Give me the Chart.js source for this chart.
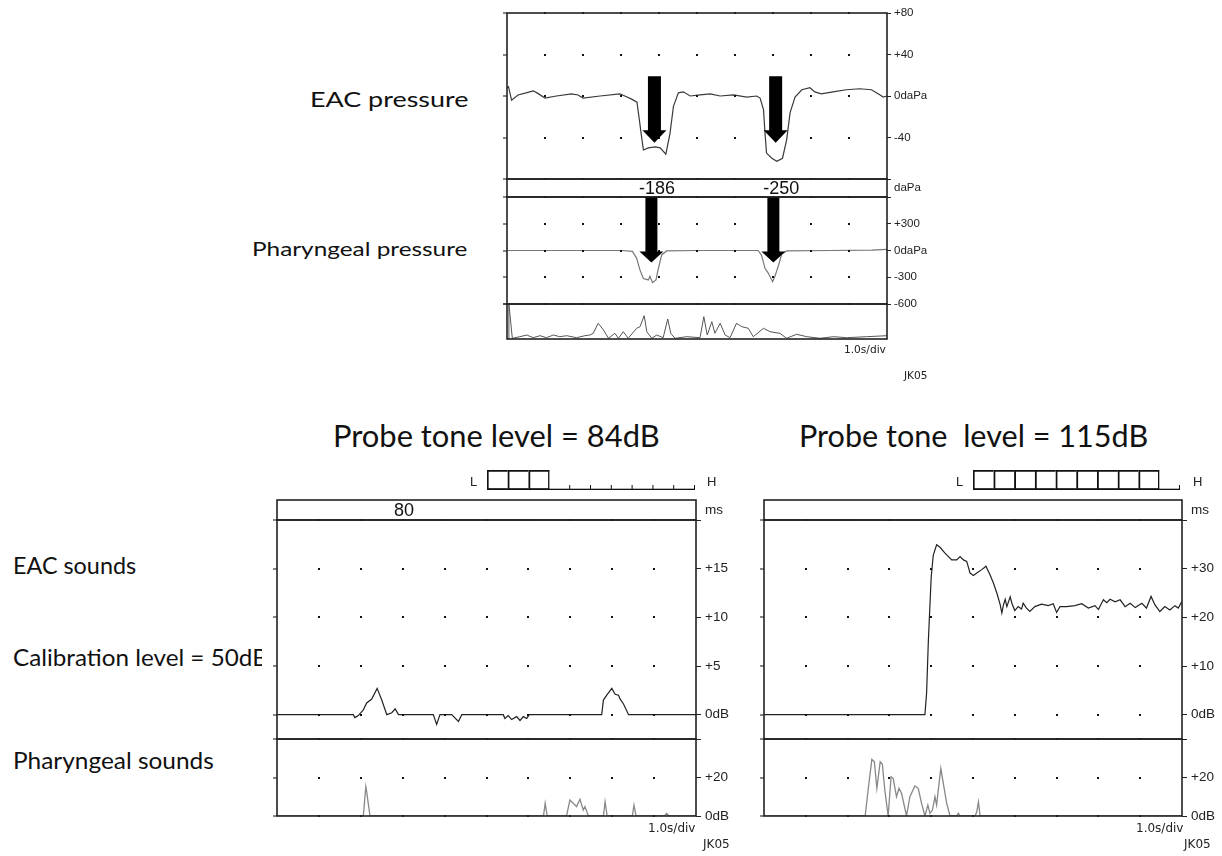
<!DOCTYPE html>
<html>
<head>
<meta charset="utf-8">
<title>EAC and pharyngeal recordings</title>
<script src="https://cdn.jsdelivr.net/npm/chart.js@4.4.1/dist/chart.umd.min.js"></script>
<style>
  body { margin: 0; width: 1222px; height: 856px; background: #fff; position: relative; overflow: hidden; }
  canvas { position: absolute; }
  .txt { position: absolute; white-space: pre; color: #111; transform-origin: 0 0; }
  .clip { position: absolute; overflow: hidden; }
</style>
</head>
<body>
<script>
// time axis: 10 divisions, 1.0 s/div
var divisions = [0, 1, 2, 3, 4, 5, 6, 7, 8, 9, 10];

// top recording: EAC pressure (daPa)
var eacPressT = [0, 0.04, 0.12, 0.29, 0.5, 0.69, 0.79, 1.0, 1.3, 1.7, 1.87, 2.0, 2.45, 2.97, 3.1, 3.28, 3.42, 3.48, 3.54, 3.59, 3.72, 3.9, 4.03, 4.18, 4.29, 4.38, 4.51, 4.64, 4.82, 5.08, 5.35, 5.61, 5.96, 6.31, 6.57, 6.66, 6.75, 6.79, 6.83, 6.97, 7.10, 7.25, 7.36, 7.45, 7.58, 7.76, 7.97, 8.1, 8.27, 8.58, 8.93, 9.28, 9.59, 9.82, 9.9, 10];
var eacPressV = [8, 9, -4, 1, 3, 5, 3, -2, 0, 2, 1, -2, 0, 2, 0, -3, -6, -22, -39, -52, -50, -49, -50, -56, -36, -10, 3, 4, 0, 1, 2, 0, 1, -1, 0, -2, -13, -36, -55, -60, -63, -60, -42, -16, -1, 6, 8, 4, 2, 4, 6, 7, 6, 1, -1, 0];
var eacPressTicks = [80, 40, 0, -40, -80];
var eacPressLabels = ['+80', '+40', '0daPa', '-40', ''];
var eacArrowT = [3.88, 7.07];

// peak pharyngeal values written in the band
var peakT = [3.95, 7.22];
var peakLabels = ['-186', '-250'];

// pharyngeal pressure (daPa)
var pharPressT = [0, 1, 2, 3.02, 3.3, 3.41, 3.5, 3.59, 3.72, 3.76, 3.83, 3.92, 3.98, 4.07, 4.2, 5, 6, 6.61, 6.7, 6.79, 6.87, 6.99, 7.05, 7.15, 7.23, 7.36, 8.5, 9.6, 10];
var pharPressV = [0, 0, 0, 0, -10, -85, -220, -315, -330, -290, -360, -330, -210, -50, -5, 0, 0, 0, -55, -200, -250, -350, -290, -160, -40, -5, 0, 5, 12];
var pharPressTicks = [600, 300, 0, -300, -600];
var pharPressLabels = ['', '+300', '0daPa', '-300', '-600'];
var pharArrowT = [3.80, 7.01];

// sound level trace under the pressure curves
var soundT = [0, 0.04, 0.05, 0.14, 0.34, 0.52, 0.69, 0.87, 1.04, 1.22, 1.39, 1.57, 1.83, 2.05, 2.18, 2.27, 2.40, 2.54, 2.67, 2.84, 2.93, 3.06, 3.19, 3.41, 3.50, 3.61, 3.68, 3.81, 3.94, 4.11, 4.23, 4.31, 4.42, 4.73, 5.08, 5.18, 5.27, 5.39, 5.47, 5.61, 5.74, 5.87, 6.04, 6.18, 6.35, 6.48, 6.75, 6.92, 7.18, 7.36, 7.62, 7.89, 8.24, 8.59, 8.94, 9.46, 10];
var soundV = [0.5, 0.5, 35, 0.7, 2.3, 4, 1.3, 3.3, 1.3, 4, 2.3, 3.3, 1.3, 3.3, 4, 5.7, 15.7, 9, 0.7, 5.7, 0.7, 7.3, 0.7, 10.7, 12.3, 23.3, 7.3, 0.7, 4, 1.3, 20, 5.7, 0.7, 2.3, 1.3, 22.3, 4, 17.3, 5.7, 15.7, 4, 1.3, 15.7, 12.3, 10.7, 2.3, 10.7, 7.3, 5.7, 0.7, 4.7, 2.3, 0.7, 2.3, 1.3, 2.3, 3.3];

// meter slots (L ... H)
var levelSlots = [1, 2, 3, 4, 5, 6, 7, 8, 9, 10];

// bottom left: probe tone 84 dB
var leftLevel = 3;
var leftLatencyT = [3.03];
var leftLatencyLabels = ['80'];
var leftEacT = [0, 1.82, 1.86, 1.94, 2.06, 2.14, 2.26, 2.39, 2.50, 2.58, 2.62, 2.74, 2.82, 2.90, 3.73, 3.81, 3.89, 4.17, 4.33, 4.41, 5.40, 5.44, 5.52, 5.60, 5.72, 5.80, 5.88, 5.96, 6.02, 7.75, 7.79, 7.87, 7.99, 8.07, 8.15, 8.19, 8.27, 8.39, 10];
var leftEacV = [0, 0, -0.3, -0.1, 0.5, 1.2, 1.6, 2.7, 1.5, 0.5, 0, 0.2, 0.6, 0, 0, -1.0, 0, 0, -0.7, 0, 0, -0.4, -0.1, -0.5, -0.2, -0.6, -0.2, -0.4, 0, 0, 1.5, 2.0, 2.7, 2.1, 2.0, 1.6, 1.1, 0, 0];
var leftEacTicks = [20, 15, 10, 5, 0];
var leftEacLabels = ['', '+15', '+10', '+5', '0dB'];
var leftPharT = [0, 2.06, 2.12, 2.14, 2.22, 6.36, 6.40, 6.45, 6.91, 6.99, 7.07, 7.15, 7.23, 7.31, 7.35, 7.43, 7.79, 7.83, 7.88, 8.48, 8.52, 8.57, 9.25, 9.30, 9.35, 10];
var leftPharV = [0, 0, 15.2, 12.6, 0, 0, 6.6, 0, 0, 8.3, 6.6, 4.9, 8.7, 3.1, 4.9, 0, 0, 7.4, 0, 0, 5.7, 0, 0, 1.4, 0, 0];

// bottom right: probe tone 115 dB
var rightLevel = 9;
var rightEacT = [0, 3.85, 3.89, 3.93, 4.00, 4.05, 4.13, 4.21, 4.33, 4.49, 4.61, 4.69, 4.77, 4.85, 4.93, 5.01, 5.09, 5.21, 5.31, 5.41, 5.49, 5.57, 5.65, 5.69, 5.73, 5.77, 5.81, 5.89, 5.93, 6.00, 6.08, 6.16, 6.20, 6.28, 6.36, 6.48, 6.64, 6.80, 6.92, 7.00, 7.08, 7.24, 7.44, 7.60, 7.76, 7.92, 8.00, 8.12, 8.20, 8.28, 8.40, 8.52, 8.64, 8.76, 8.88, 9.04, 9.15, 9.26, 9.35, 9.47, 9.59, 9.71, 9.83, 9.91, 10];
var rightEacV = [0, 0, 4.5, 14.7, 28.3, 32.8, 34.9, 34.4, 33.2, 31.8, 31.8, 32.5, 31.8, 31.5, 29.1, 28.6, 29.1, 29.8, 30.5, 28.7, 27.0, 25.0, 22.6, 20.9, 22.6, 23.7, 22.2, 24.2, 22.9, 21.4, 22.2, 21.7, 22.9, 21.9, 21.2, 22.2, 22.7, 22.4, 22.8, 21.0, 22.2, 22.2, 22.4, 22.8, 21.9, 22.4, 21.6, 23.6, 23.0, 23.7, 23.2, 23.6, 22.2, 22.9, 22.0, 22.9, 21.9, 24.3, 22.6, 21.2, 22.2, 21.5, 22.4, 21.9, 23.3];
var rightEacTicks = [40, 30, 20, 10, 0];
var rightEacLabels = ['', '+30', '+20', '+10', '0dB'];
var rightPharT = [0, 2.42, 2.50, 2.58, 2.64, 2.70, 2.78, 2.83, 2.89, 2.97, 3.04, 3.09, 3.17, 3.23, 3.29, 3.41, 3.49, 3.61, 3.69, 3.77, 3.85, 3.92, 3.97, 4.03, 4.09, 4.13, 4.17, 4.23, 4.29, 4.37, 4.45, 4.61, 4.65, 4.69, 5.05, 5.09, 5.13, 5.17, 10];
var rightPharV = [0, 0, 15.2, 29.4, 28.2, 14.4, 28.2, 27.0, 13.5, 0, 20.4, 19.6, 10.0, 14.4, 11.8, 0, 10.0, 15.6, 14.4, 6.6, 0, 5.7, 1.4, 3.1, 10.0, 5.7, 13.5, 24.7, 17.0, 6.6, 0, 0, 1.4, 0, 0, 2.2, 7.4, 0, 0];

var pharSoundTicks = [40, 20, 0];
var pharSoundLabels = ['', '+20', '0dB'];

// draws grid dots, edge ticks, arrows, band notes and the frame of each strip
var tracePlugin = {
  id: 'trace',
  afterDatasetsDraw: function (chart, args, o) {
    var ctx = chart.ctx, a = chart.chartArea, x = chart.scales.x, y = chart.scales.y;
    ctx.save();
    ctx.fillStyle = '#111';
    (o.rows || []).forEach(function (v) {
      var py = Math.round(y.getPixelForValue(v));
      divisions.slice(1, -1).forEach(function (d) {
        ctx.fillRect(Math.round(x.getPixelForValue(d)) - 1, py - 1, 2, 2);
      });
      ctx.fillRect(a.left - 4, py - 0.5, 4, 1);
    });
    ctx.fillStyle = '#000';
    (o.arrows || []).forEach(function (t) {
      var cx = x.getPixelForValue(t);
      var top = y.getPixelForValue(o.arrowTop), neck = y.getPixelForValue(o.arrowNeck), tip = y.getPixelForValue(o.arrowTip);
      var sw = o.shaft / 2, hw = o.head / 2;
      ctx.beginPath();
      ctx.moveTo(cx - sw, top);
      ctx.lineTo(cx + sw, top);
      ctx.lineTo(cx + sw, neck);
      ctx.lineTo(cx + hw, neck);
      ctx.lineTo(cx, tip);
      ctx.lineTo(cx - hw, neck);
      ctx.lineTo(cx - sw, neck);
      ctx.closePath();
      ctx.fill();
    });
    if (o.notes) {
      ctx.fillStyle = '#111';
      ctx.font = o.noteFont;
      ctx.textAlign = 'center';
      ctx.textBaseline = 'middle';
      o.notes.forEach(function (t, i) {
        ctx.fillText(o.noteLabels[i], x.getPixelForValue(t), (a.top + a.bottom) / 2 + 1);
      });
    }
    ctx.strokeStyle = '#222';
    ctx.lineWidth = 1.6;
    ctx.strokeRect(a.left, a.top, a.right - a.left, a.bottom - a.top);
    ctx.restore();
  }
};

// baseline and slot ticks of the level meter
var meterPlugin = {
  id: 'meter',
  afterDatasetsDraw: function (chart, args, o) {
    var ctx = chart.ctx, a = chart.chartArea, n = levelSlots.length, w = (a.right - a.left) / n;
    ctx.save();
    ctx.fillStyle = '#111';
    ctx.fillRect(a.left, a.bottom - 1.3, a.right - a.left, 1.3);
    ctx.fillRect(a.left + o.filled * w - 1.3, a.top, 1.3, a.bottom - a.top);
    for (var k = o.filled + 1; k <= n; k++) {
      ctx.fillRect(a.left + k * w - 1, a.bottom - 5, 1, 5);
    }
    ctx.restore();
  }
};

function makeCanvas(left, top, w, h) {
  var cv = document.createElement('canvas');
  cv.width = w;
  cv.height = h;
  cv.style.left = left + 'px';
  cv.style.top = top + 'px';
  document.body.appendChild(cv);
  return cv;
}

function strip(box, cfg) {
  // padding kept larger than the tick label overhang so the plot area sits exactly on box
  var padL = 6, padT = 16, padB = 16, axisW = 48;
  var cv = makeCanvas(box[0] - padL, box[1] - padT, box[2] - box[0] + padL + axisW, box[3] - box[1] + padT + padB);
  new Chart(cv, {
    type: 'line',
    data: {
      datasets: (cfg.series || []).map(function (s) {
        return {
          data: s.t.map(function (t, i) { return { x: t, y: s.v[i] }; }),
          borderColor: s.color, borderWidth: s.width, pointRadius: 0, tension: 0, fill: false
        };
      })
    },
    options: {
      responsive: false, animation: false, events: [],
      layout: { padding: { left: padL, top: padT, bottom: padB, right: 0 } },
      plugins: { legend: { display: false }, tooltip: { enabled: false }, trace: cfg.deco || {} },
      scales: {
        x: { type: 'linear', min: 0, max: 10, display: false },
        y: {
          position: 'right', min: cfg.min, max: cfg.max,
          afterBuildTicks: function (s) { s.ticks = cfg.ticks.map(function (v) { return { value: v }; }); },
          afterFit: function (s) { s.width = axisW; },
          ticks: {
            autoSkip: false, padding: cfg.pad, color: '#222',
            font: { family: 'Liberation Sans', size: cfg.fs },
            callback: function (v, i) { return cfg.labels[i]; }
          },
          grid: { drawOnChartArea: false, tickLength: cfg.tick, color: cfg.tickColor || '#222', lineWidth: 1 },
          border: { display: false }
        }
      }
    },
    plugins: [tracePlugin]
  });
}

function meter(box, filled) {
  var cv = makeCanvas(box[0] - 2, box[1] - 2, box[2] - box[0] + 4, box[3] - box[1] + 4);
  new Chart(cv, {
    type: 'bar',
    data: {
      labels: levelSlots,
      datasets: [{
        data: levelSlots.map(function (s) { return s <= filled ? 1 : null; }),
        backgroundColor: 'rgba(0,0,0,0)', borderColor: '#111',
        borderWidth: { left: 1.3, top: 1.3, bottom: 1.3, right: 0 }, borderSkipped: false,
        barPercentage: 1, categoryPercentage: 1
      }]
    },
    options: {
      responsive: false, animation: false, events: [],
      layout: { padding: 2 },
      plugins: { legend: { display: false }, tooltip: { enabled: false }, meter: { filled: filled } },
      scales: { x: { display: false }, y: { display: false, min: 0, max: 1 } }
    },
    plugins: [meterPlugin]
  });
}

// text placed by its baseline; optional target width squeezes/stretches it
function text(str, x, base, size, family, opt) {
  opt = opt || {};
  var asc = family === 'Lato' ? 0.887 : 0.846;
  var d = document.createElement('div');
  d.className = 'txt';
  d.textContent = str;
  d.style.fontFamily = family;
  d.style.fontSize = size + 'px';
  d.style.lineHeight = size + 'px';
  if (opt.color) d.style.color = opt.color;
  var host = document.body;
  if (opt.clip) {
    host = document.createElement('div');
    host.className = 'clip';
    host.style.left = x + 'px';
    host.style.top = (base - asc * size - 4) + 'px';
    host.style.width = opt.clip + 'px';
    host.style.height = (size + 10) + 'px';
    document.body.appendChild(host);
    d.style.top = '4px';
    x = 0;
  } else {
    d.style.top = (base - asc * size) + 'px';
  }
  host.appendChild(d);
  var w = d.offsetWidth;
  if (opt.width) d.style.transform = 'scaleX(' + (opt.width / w) + ')';
  var shown = opt.width || w;
  d.style.left = (opt.align === 'right' ? x - shown : x) + 'px';
}

// ---- top recording ----
var topTick = { fs: 11.5, pad: 3, tick: 4 };
strip([507, 13, 887, 179], {
  min: -80, max: 80, ticks: eacPressTicks, labels: eacPressLabels, fs: topTick.fs, pad: topTick.pad, tick: topTick.tick,
  series: [{ t: eacPressT, v: eacPressV, color: '#3a3a3a', width: 1.2 }],
  deco: { rows: eacPressTicks, arrows: eacArrowT, arrowTop: 19, arrowNeck: -33, arrowTip: -45, shaft: 13, head: 24 }
});
strip([507, 179, 887, 197], {
  min: 0, max: 1, ticks: [0.5], labels: ['daPa'], fs: topTick.fs, pad: topTick.pad, tick: topTick.tick, tickColor: 'rgba(0,0,0,0)',
  deco: { notes: peakT, noteLabels: peakLabels, noteFont: '18px "Liberation Sans"' }
});
strip([507, 197, 887, 304], {
  min: -600, max: 600, ticks: pharPressTicks, labels: pharPressLabels, fs: topTick.fs, pad: topTick.pad, tick: topTick.tick,
  series: [{ t: pharPressT, v: pharPressV, color: '#777', width: 1.2 }],
  deco: { rows: pharPressTicks, arrows: pharArrowT, arrowTop: 600, arrowNeck: -12, arrowTip: -135, shaft: 12, head: 24 }
});
strip([507, 304, 887, 339], {
  min: 0, max: 35, ticks: [35], labels: [''], fs: topTick.fs, pad: topTick.pad, tick: topTick.tick,
  series: [{ t: soundT, v: soundV, color: '#555', width: 1 }],
  deco: { rows: [35] }
});

// ---- bottom left ----
var botTick = { fs: 13.5, pad: 4, tick: 5 };
meter([487, 470, 695, 490], leftLevel);
strip([277, 500, 696, 520], {
  min: 0, max: 1, ticks: [0.5], labels: ['ms'], fs: botTick.fs, pad: botTick.pad, tick: botTick.tick, tickColor: 'rgba(0,0,0,0)',
  deco: { notes: leftLatencyT, noteLabels: leftLatencyLabels, noteFont: '18px "Liberation Sans"' }
});
strip([277, 520, 696, 739], {
  min: -2.5, max: 20, ticks: leftEacTicks, labels: leftEacLabels, fs: botTick.fs, pad: botTick.pad, tick: botTick.tick,
  series: [{ t: leftEacT, v: leftEacV, color: '#222', width: 1.2 }],
  deco: { rows: leftEacTicks }
});
strip([277, 739, 696, 816], {
  min: 0, max: 40, ticks: pharSoundTicks, labels: pharSoundLabels, fs: botTick.fs, pad: botTick.pad, tick: botTick.tick,
  series: [{ t: leftPharT, v: leftPharV, color: '#888', width: 1.3 }],
  deco: { rows: pharSoundTicks }
});

// ---- bottom right ----
meter([973, 470, 1180, 490], rightLevel);
strip([764, 500, 1182, 520], {
  min: 0, max: 1, ticks: [0.5], labels: ['ms'], fs: botTick.fs, pad: botTick.pad, tick: botTick.tick, tickColor: 'rgba(0,0,0,0)',
  deco: {}
});
strip([764, 520, 1182, 739], {
  min: -5, max: 40, ticks: rightEacTicks, labels: rightEacLabels, fs: botTick.fs, pad: botTick.pad, tick: botTick.tick,
  series: [{ t: rightEacT, v: rightEacV, color: '#222', width: 1.2 }],
  deco: { rows: rightEacTicks }
});
strip([764, 739, 1182, 816], {
  min: 0, max: 40, ticks: pharSoundTicks, labels: pharSoundLabels, fs: botTick.fs, pad: botTick.pad, tick: botTick.tick,
  series: [{ t: rightPharT, v: rightPharV, color: '#888', width: 1.3 }],
  deco: { rows: pharSoundTicks }
});

// ---- labels ----
text('EAC pressure', 310, 107, 21.8, 'Lato', { width: 158 });
text('Pharyngeal pressure', 252, 256, 19.5, 'Lato', { width: 216 });
text('Probe tone level = 84dB', 333, 447, 30.5, 'Lato', { width: 327 });
text('Probe tone  level = 115dB', 799, 447, 30.5, 'Lato', { width: 349 });
text('EAC sounds', 13, 575, 23.2, 'Lato', { width: 123 });
text('Calibration level = 50dB', 13, 667, 23.2, 'Lato', { width: 255, clip: 249 });
text('Pharyngeal sounds', 13, 770, 23.2, 'Lato', { width: 201 });

text('1.0s/div', 886, 353, 10.6, 'DejaVu Sans', { align: 'right', color: '#222' });
text('JK05', 904, 379, 10.6, 'DejaVu Sans', { color: '#222' });
text('1.0s/div', 695, 832.5, 12, 'DejaVu Sans', { align: 'right', color: '#222' });
text('JK05', 703, 848.5, 12, 'DejaVu Sans', { color: '#222' });
text('1.0s/div', 1183, 832.5, 12, 'DejaVu Sans', { align: 'right', color: '#222' });
text('JK05', 1184, 848.5, 12, 'DejaVu Sans', { color: '#222' });

text('L', 470, 486, 13, 'Liberation Sans', { color: '#222' });
text('H', 707, 486, 13, 'Liberation Sans', { color: '#222' });
text('L', 956, 486, 13, 'Liberation Sans', { color: '#222' });
text('H', 1193, 486, 13, 'Liberation Sans', { color: '#222' });
</script>
</body>
</html>
